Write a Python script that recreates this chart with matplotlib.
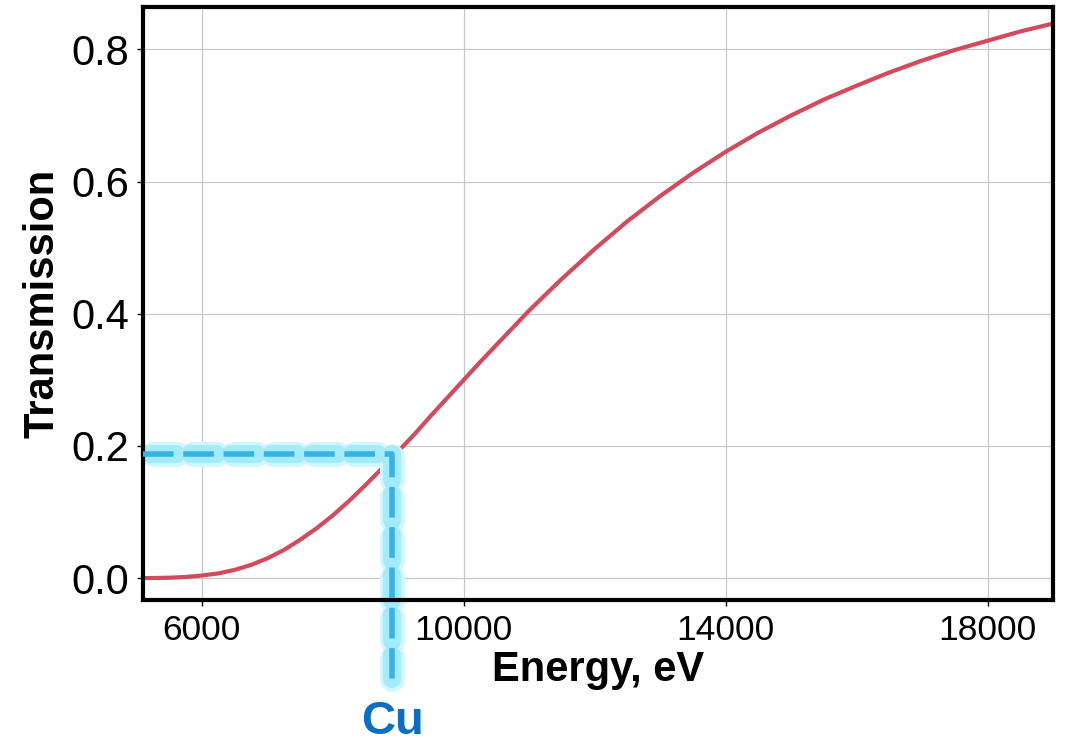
import numpy as np
import matplotlib.pyplot as plt
import matplotlib.transforms as mtransforms

plt.rcParams['font.family'] = ['Liberation Sans', 'DejaVu Sans']
plt.rcParams['lines.scale_dashes'] = False

# transmission curve, values
energy = [5100, 5250, 5500, 5750, 6000, 6250, 6500, 6750, 7000, 7250, 7500,
          7750, 8000, 8250, 8500, 8750, 9000, 9250, 9500, 9750, 10000,
          10250, 10500, 10750, 11000, 11250, 11500, 12000, 12500, 13000,
          13500, 14000, 14500, 15000, 15500, 16000, 16500, 17000, 17500,
          18000, 18500, 19000]
transmission = [0.0001, 0.0002, 0.0007, 0.0018, 0.004, 0.0072, 0.0125, 0.020,
                0.030, 0.0425, 0.058, 0.0753, 0.095, 0.117, 0.141, 0.166,
                0.192, 0.218, 0.246, 0.273, 0.300, 0.327, 0.353, 0.379,
                0.405, 0.429, 0.453, 0.498, 0.540, 0.578, 0.613, 0.645,
                0.674, 0.700, 0.724, 0.745, 0.765, 0.783, 0.799, 0.813,
                0.827, 0.839]

# Cu marker line
cu_energy = 8905
cu_trans = 0.188
cu_label = 'Cu'

xticks = [6000, 10000, 14000, 18000]
yticks = [0.0, 0.2, 0.4, 0.6, 0.8]

fig = plt.figure(figsize=(10.66, 7.47), dpi=100)
ax = fig.add_axes([0.1341, 0.1968, 0.8537, 0.7938])

ax.plot(energy, transmission, color='#d44a5c', lw=3, zorder=3)

x0, x1 = 5100, 19000
y0, y1 = -0.033, 0.864
ax.set_xlim(x0, x1)
ax.set_ylim(y0, y1)

# dashed guide with glow, runs past the bottom of the axes
gx = [x0, cu_energy, cu_energy]
gy = [cu_trans, cu_trans, -0.152]
ax.plot(gx, gy, color='#d2f7fe', lw=18, ls=(-7, (17, 12)),
        dash_capstyle='round', clip_on=False, zorder=4)
ax.plot(gx, gy, color='#a4ebfb', lw=13, ls=(-5, (19, 10)),
        dash_capstyle='round', clip_on=False, zorder=4)
ax.plot(gx, gy, color='#38b2e6', lw=4, ls=(0, (22, 7)),
        dash_capstyle='butt', clip_on=False, zorder=5)

trans = mtransforms.blended_transform_factory(ax.transData, ax.transAxes)
ax.text(cu_energy, -0.226, cu_label, transform=trans, ha='center',
        va='baseline', fontsize=34, fontweight='bold', color='#0a6fc4')

ax.set_xticks(xticks)
ax.set_yticks(yticks)
ax.set_yticklabels(['%.1f' % v for v in yticks])
ax.tick_params(length=4, width=1, pad=6)
ax.tick_params(axis='x', labelsize=25.5)
ax.tick_params(axis='y', labelsize=30)
ax.grid(True, color='#c8c8c8', lw=0.9)
ax.set_axisbelow(True)
for s in ax.spines.values():
    s.set_linewidth(3)
    s.set_zorder(4.5)

ax.set_xlabel('Energy, eV', fontsize=30, fontweight='bold', labelpad=2)
ax.set_ylabel('Transmission', fontsize=30, fontweight='bold', labelpad=6)

fig.savefig('out.png', dpi=100)
